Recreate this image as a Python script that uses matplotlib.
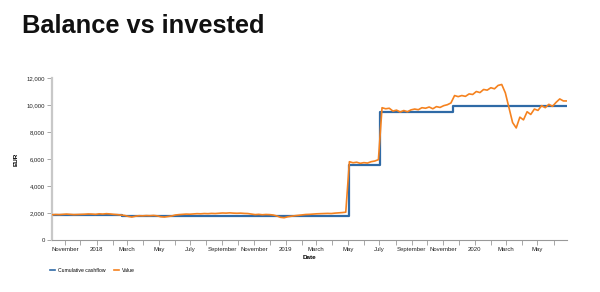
import matplotlib
matplotlib.use("Agg")
import matplotlib.pyplot as plt
import matplotlib.dates as mdates
from matplotlib.ticker import FuncFormatter
from matplotlib.lines import Line2D
import pandas as pd

plt.rcParams['font.family'] = ['Liberation Sans', 'DejaVu Sans']

title = "Balance vs invested"
series_names = ["Cumulative cashflow", "Value"]

# Cumulative cashflow: step changes (date, amount)
cash_dates = ['2017-10-07', '2018-02-20', '2018-12-20', '2019-05-04',
              '2019-07-03', '2019-11-20', '2020-06-27']
cash_values = [1820, 1800, 1770, 5520, 9450, 9900, 9900]

# Portfolio value, weekly samples starting 2017-10-07
value_start = '2017-10-07'
values = [
    # 2017 Oct, Nov, Dec
    1870, 1890, 1880, 1900,
    1920, 1900, 1880, 1890,
    1900, 1910, 1930, 1920, 1900,
    # 2018 Jan..Dec
    1940, 1920, 1950, 1930,
    1900, 1880, 1850, 1820,
    1750, 1700, 1760, 1800, 1790,
    1810, 1800, 1820, 1790,
    1720, 1700, 1740, 1780,
    1850, 1880, 1900, 1920, 1910,
    1930, 1950, 1940, 1960,
    1950, 1970, 1960, 1980,
    2000, 1990, 2010, 1990, 1980,
    1990, 1970, 1960, 1920,
    1880, 1900, 1870, 1890,
    1880, 1850, 1780, 1680, 1650,
    # 2019 Jan..Dec
    1720, 1760, 1800, 1830,
    1860, 1890, 1900, 1920,
    1940, 1950, 1960, 1970, 1960,
    1990, 2010, 2030, 2060,
    5800, 5720, 5760, 5680,
    5730, 5700, 5800, 5850, 5950,
    9800, 9720, 9760, 9550,
    9620, 9480, 9590, 9500, 9640,
    9700, 9650, 9800, 9760,
    9850, 9720, 9880, 9820,
    9950, 10020, 10150, 10700, 10620,
    10700, 10640, 10820, 10780,
    # 2020 Jan..Jun
    11000, 10920, 11150, 11100,
    11280, 11200, 11450, 11520, 10900,
    9800, 8700, 8300, 9100,
    8900, 9500, 9300, 9700,
    9600, 9950, 9800, 10050, 9900,
    10200, 10450, 10300, 10300,
]

value_dates = pd.date_range(value_start, periods=len(values), freq='7D')
cash_dt = pd.to_datetime(cash_dates)

fig = plt.figure(figsize=(6.0, 2.92), dpi=100)
ax = fig.add_axes([52/600, 1-240/292, (567-52)/600, (240-78)/292])

blue = '#2f6aa6'
orange = '#f5821f'
ax.plot(cash_dt, cash_values, drawstyle='steps-post', color=blue, lw=1.6, zorder=2)
ax.plot(value_dates, values, color=orange, lw=1.2, zorder=3)

ax.set_xlim(pd.Timestamp('2017-10-07'), pd.Timestamp('2020-06-27'))
ax.set_ylim(0, 12000)
ax.set_yticks(range(0, 12001, 2000))
ax.yaxis.set_major_formatter(FuncFormatter(lambda v, p: f"{int(v):,}"))

ax.xaxis.set_major_locator(mdates.MonthLocator(bymonth=[1, 3, 5, 7, 9, 11]))
ax.xaxis.set_minor_locator(mdates.MonthLocator(bymonth=[2, 4, 6, 8, 10, 12]))

def fmt(x, pos):
    d = mdates.num2date(x)
    return str(d.year) if d.month == 1 else d.strftime('%B')
ax.xaxis.set_major_formatter(FuncFormatter(fmt))

for s in ['top', 'right']:
    ax.spines[s].set_visible(False)
ax.spines['left'].set_color('#c8c8c8')
ax.spines['left'].set_linewidth(1.6)
ax.spines['bottom'].set_color('#999999')
ax.spines['bottom'].set_linewidth(0.8)

ax.tick_params(axis='both', which='both', length=3.5, width=0.6, color='#999999',
               labelsize=4.3, labelcolor='#222222', pad=1.5)

ax.set_xlabel('Date', fontsize=4.6, fontweight='bold', labelpad=2)
ax.set_ylabel('EUR', fontsize=4.6, fontweight='bold', labelpad=6)

fig.text(22/600, 1-33/292, title, fontsize=18.3, fontweight='bold',
         va='baseline', ha='left', color='#111111')

handles = [Line2D([], [], color=blue, lw=1.2), Line2D([], [], color=orange, lw=1.2)]
fig.legend(handles, series_names, loc='center left',
           bbox_to_anchor=(50/600, 1-270/292), ncol=2, frameon=False,
           fontsize=3.7, handlelength=1.0, handletextpad=0.6, columnspacing=1.6,
           borderpad=0, borderaxespad=0)

fig.savefig('out.png', dpi=100)
